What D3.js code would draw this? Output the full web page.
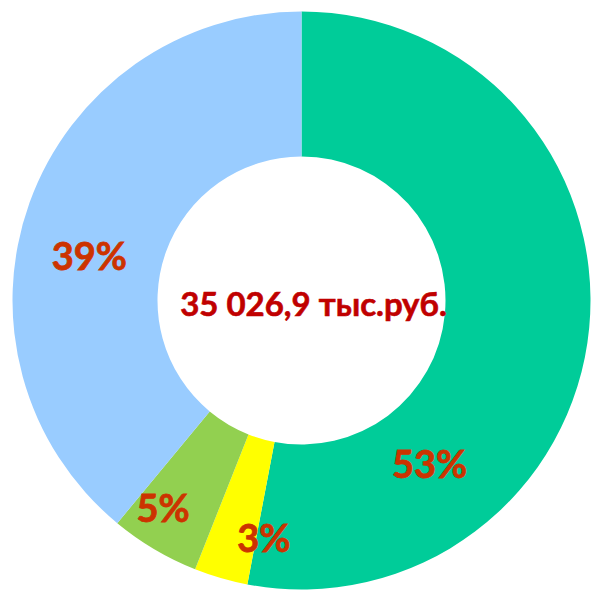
<!DOCTYPE html>
<html>
<head>
<meta charset="utf-8">
<script src="https://cdn.jsdelivr.net/npm/d3@7"></script>
<style>
  html, body { margin: 0; padding: 0; background: #fff; }
  svg text { font-family: Lato, "Open Sans", sans-serif; font-weight: 700; }
</style>
</head>
<body>
<div id="chart"></div>
<script>
// share of the total, clockwise from 12 o'clock
var categories = ['a', 'b', 'c', 'd'];
var values     = [53, 3, 5, 39];
var labels     = ['53%', '3%', '5%', '39%'];
var colors     = ['#00cc99', '#ffff00', '#92d050', '#99ccff'];
var total_text = '35 026,9 тыс.руб.';

// where excel left the labels: angle (deg, clockwise from top) and radius share
var label_angle  = [142, 189, 213.6, 281.7];
var label_radius = [0.72, 0.835, 0.865, 0.75];

function donut_draw(o) {
  var width  = 594;
  var height = 590;
  var cx = 301.5, cy = 300.5;
  var outer = 289, inner = 144;

  var svg = d3.select(o.container).append('svg')
    .attr('width', width)
    .attr('height', height);

  var gph = svg.append('g')
    .attr('transform', `translate(${cx},${cy})`);

  var pie = d3.pie()
    .sort(null)
    .value((d) => d.v);

  var arc = d3.arc()
    .innerRadius(inner)
    .outerRadius(outer);

  var data = o.categories.map((c, i) => ({ id: c, v: o.values[i] }));

  gph.selectAll('path.slice')
    .data(pie(data)).enter()
    .append('path')
    .attr('class', 'slice')
    .attr('d', arc)
    .style('fill', (d, i) => o.colors[i]);

  gph.selectAll('text.label')
    .data(o.labels).enter()
    .append('text')
    .attr('class', 'label')
    .attr('transform', (d, i) => {
      var p = d3.pointRadial(o.label_angle[i] * Math.PI / 180, o.label_radius[i] * outer);
      return `translate(${p[0]},${p[1]})`;
    })
    .attr('text-anchor', 'middle')
    .attr('dy', '0.35em')
    .style('font-size', '38px')
    .style('fill', '#cc3300')
    .style('stroke', '#cc3300')
    .style('stroke-width', 0.8)
    .text((d) => d);

  // text box in the hole sits a little right of the ring centre
  gph.append('text')
    .attr('class', 'total')
    .attr('text-anchor', 'middle')
    .attr('dy', '0.35em')
    .attr('x', 12)
    .attr('y', 4)
    .style('font-size', '33px')
    .style('fill', '#c00000')
    .style('stroke', '#c00000')
    .style('stroke-width', 0.6)
    .text(o.total_text);

  return { svg: svg, graph: gph };
}

donut_draw({
  container: '#chart',
  categories: categories,
  values: values,
  labels: labels,
  colors: colors,
  total_text: total_text,
  label_angle: label_angle,
  label_radius: label_radius
});
</script>
</body>
</html>
